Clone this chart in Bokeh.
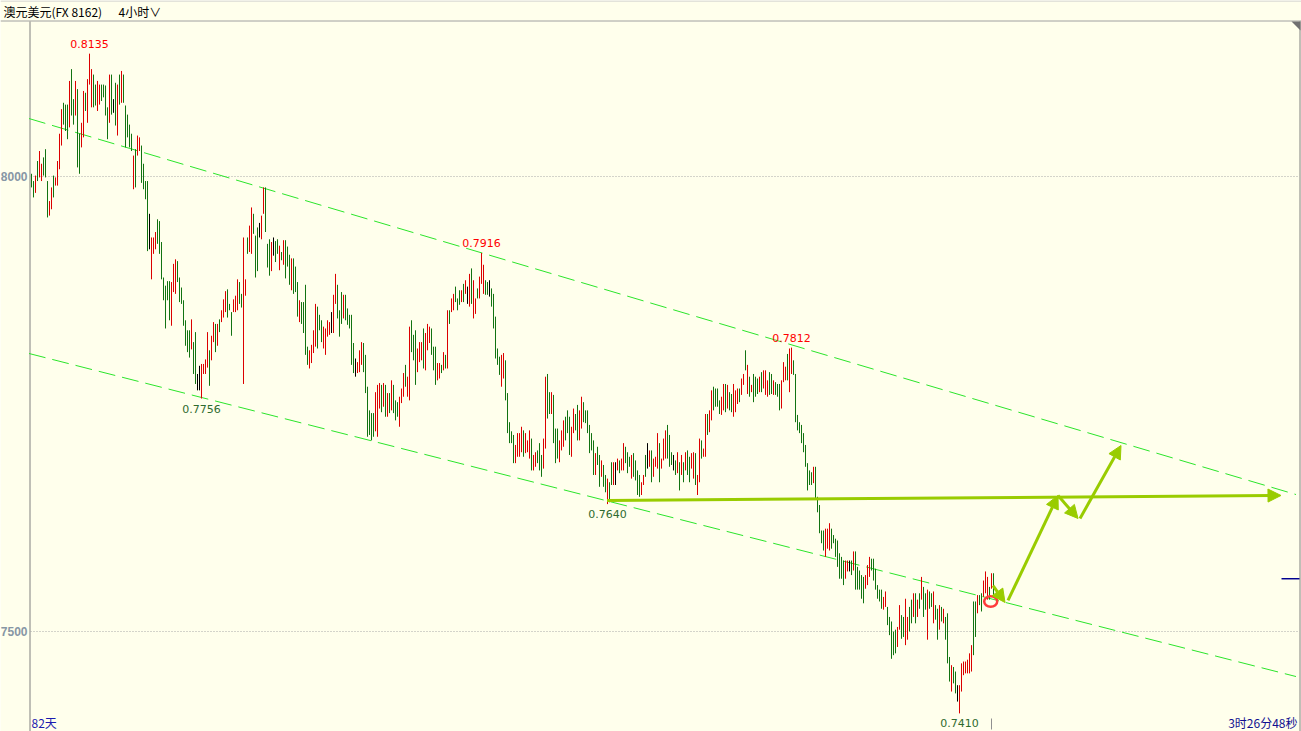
from bokeh.plotting import figure
from bokeh.models import Range1d, ColumnDataSource, Arrow, NormalHead
from bokeh.core.properties import value
from bokeh.embed import file_html
from bokeh.resources import INLINE

# ---------------- data ----------------
title_name = "澳元美元(FX 8162)"
title_period = "4小时∨"
span_text = "82天"
countdown_text = "3时26分48秒"

# 4-hour bars, prices in pips (price = pips / 10000)
high_pips = [
    8003, 7995, 8001, 8017, 8028, 8014, 8021, 8030, 7995, 7973,
    7988, 8001, 7999, 8017, 8047, 8074, 8081, 8079, 8079, 8105,
    8118, 8085, 8105, 8096, 8047, 8059, 8094, 8092, 8107, 8135,
    8118, 8112, 8101, 8105, 8101, 8101, 8101, 8100, 8076, 8112,
    8112, 8085, 8103, 8101, 8112, 8116, 8112, 8078, 8068, 8057,
    8047, 8023, 8030, 8045, 8043, 8034, 8014, 7995, 7995, 7959,
    7933, 7933, 7939, 7953, 7951, 7928, 7889, 7880, 7885, 7885,
    7884, 7904, 7909, 7907, 7889, 7878, 7864, 7842, 7831, 7831,
    7843, 7818, 7829, 7783, 7792, 7794, 7794, 7799, 7829, 7809,
    7825, 7840, 7838, 7838, 7843, 7853, 7865, 7874, 7876, 7860,
    7851, 7865, 7869, 7887, 7884, 7871, 7933, 7887, 7933, 7946,
    7966, 7959, 7935, 7944, 7949, 7957, 7988, 7988, 7926, 7931,
    7928, 7933, 7929, 7931,
    7924, 7917, 7930, 7930, 7923, 7914,
    7910, 7910, 7901, 7884, 7864, 7862, 7862, 7881, 7813, 7809,
    7815, 7831, 7860, 7857, 7848, 7842, 7835, 7833, 7842, 7840,
    7851, 7870, 7893, 7881, 7853, 7873, 7870, 7870, 7855, 7848,
    7848, 7817, 7800, 7796, 7809, 7818, 7817, 7804, 7769, 7743,
    7740, 7740, 7763, 7771, 7773, 7771, 7773, 7771, 7762, 7762,
    7776, 7771, 7754, 7752, 7758, 7767, 7784, 7793, 7780, 7835,
    7842, 7826, 7831, 7811, 7818, 7818, 7833, 7828, 7838, 7835,
    7833, 7813, 7813, 7795, 7795, 7793, 7807, 7804, 7853, 7853,
    7866, 7871, 7879, 7866, 7875, 7875, 7882, 7886, 7879, 7893,
    7899, 7886, 7866, 7877, 7890, 7916, 7903, 7886, 7884, 7886,
    7877, 7871, 7846, 7811, 7802, 7804, 7806, 7798, 7762, 7730,
    7720, 7716, 7705, 7718, 7718,
    7725, 7721, 7718, 7710, 7721,
    7712, 7694, 7697, 7699, 7707, 7694, 7712, 7780, 7783, 7763,
    7763, 7760, 7723, 7723, 7710, 7721, 7732, 7736, 7743, 7736,
    7725, 7745, 7739, 7749, 7743, 7758, 7752, 7743, 7743, 7727,
    7718, 7710, 7696, 7703, 7694, 7688, 7683, 7672, 7668, 7664,
    7686, 7686, 7686, 7690, 7688, 7690, 7707, 7703, 7697, 7692,
    7694, 7696, 7688, 7677, 7672, 7664, 7672, 7694, 7707, 7699,
    7699, 7690, 7692, 7718, 7707, 7690, 7712, 7721, 7727, 7716,
    7697, 7694, 7688, 7697, 7686, 7694, 7686, 7697, 7699, 7692,
    7696, 7697, 7696, 7672, 7712, 7710, 7701, 7739, 7739, 7743,
    7765, 7769, 7767, 7767, 7754, 7758, 7772, 7772, 7771, 7763,
    7761, 7772, 7765, 7767, 7767, 7778, 7783, 7809, 7793, 7780,
    7771, 7783, 7780, 7778, 7780,
    7785, 7787, 7787, 7776, 7785,
    7783, 7776, 7774, 7772, 7772, 7776, 7796, 7791, 7805, 7811,
    7812, 7798, 7783, 7738, 7730, 7727, 7718, 7705, 7685, 7677,
    7675, 7681, 7681, 7648, 7639, 7611, 7611, 7613, 7613, 7619,
    7613, 7606, 7602, 7600, 7586, 7582, 7578, 7578, 7578, 7578,
    7578, 7588, 7588, 7571, 7567, 7562, 7560, 7562, 7573, 7582,
    7580, 7580, 7569, 7551, 7546, 7546, 7538, 7544, 7527, 7516,
    7511, 7500, 7502, 7505, 7529, 7518, 7516, 7536, 7516, 7527,
    7535, 7542, 7542, 7535, 7542, 7560, 7549, 7542, 7546, 7544,
    7542, 7544, 7529, 7525, 7529, 7527, 7525, 7516, 7520, 7472,
    7463, 7461, 7456, 7441, 7441, 7465, 7467, 7467, 7469, 7476,
    7485, 7533, 7533, 7540, 7540, 7542, 7556, 7566, 7560, 7549,
    7564, 7564,
]

low_pips = [
    7988, 7977, 7982, 7995, 7999, 7995, 8001, 7999, 7955, 7957,
    7964, 7977, 7990, 7990, 8008, 8034, 8057, 8050, 8041, 8054,
    8067, 8057, 8067, 8010, 8003, 8032, 8043, 8072, 8059, 8101,
    8076, 8076, 8078, 8072, 8079, 8083, 8087, 8067, 8041, 8059,
    8068, 8070, 8056, 8045, 8079, 8081, 8081, 8032, 8043, 8032,
    8028, 7986, 7988, 8023, 8028, 7993, 7986, 7975, 7918, 7920,
    7887, 7915, 7920, 7926, 7915, 7887, 7864, 7833, 7864, 7842,
    7836, 7873, 7871, 7884, 7862, 7860, 7836, 7814, 7807, 7801,
    7810, 7783, 7772, 7765, 7765, 7756, 7783, 7783, 7790, 7770,
    7798, 7818, 7807, 7814, 7829, 7840, 7845, 7851, 7845, 7853,
    7825, 7851, 7851, 7853, 7860, 7856, 7772, 7869, 7915, 7917,
    7915, 7937, 7889, 7896, 7933, 7931, 7959, 7939, 7900, 7891,
    7896, 7913, 7906, 7915,
    7897, 7908, 7903, 7888, 7901, 7881,
    7875, 7871, 7873, 7846, 7840, 7838, 7828, 7804, 7793, 7789,
    7795, 7806, 7813, 7811, 7831, 7818, 7811, 7804, 7824, 7826,
    7828, 7828, 7860, 7844, 7824, 7838, 7844, 7842, 7837, 7833,
    7793, 7784, 7780, 7784, 7785, 7793, 7785, 7762, 7714, 7716,
    7710, 7714, 7720, 7714, 7745, 7741, 7747, 7736, 7736, 7740,
    7743, 7740, 7732, 7736, 7725, 7751, 7758, 7769, 7758, 7754,
    7807, 7798, 7771, 7785, 7796, 7798, 7789, 7787, 7809, 7817,
    7804, 7787, 7771, 7776, 7778, 7784, 7787, 7789, 7789, 7838,
    7851, 7853, 7862, 7853, 7859, 7862, 7862, 7871, 7860, 7857,
    7860, 7844, 7849, 7866, 7866, 7882, 7871, 7870, 7870, 7868,
    7857, 7833, 7800, 7793, 7782, 7769, 7778, 7754, 7718, 7707,
    7707, 7685, 7685, 7692, 7692,
    7697, 7692, 7696, 7697, 7690,
    7677, 7677, 7681, 7685, 7677, 7670, 7679, 7701, 7734, 7739,
    7739, 7707, 7685, 7690, 7686, 7699, 7703, 7710, 7718, 7694,
    7692, 7718, 7721, 7710, 7710, 7723, 7730, 7729, 7718, 7696,
    7699, 7672, 7672, 7683, 7659, 7670, 7659, 7653, 7640, 7642,
    7661, 7661, 7661, 7677, 7674, 7677, 7677, 7685, 7674, 7681,
    7668, 7670, 7666, 7650, 7648, 7650, 7661, 7670, 7679, 7681,
    7664, 7670, 7681, 7679, 7664, 7679, 7688, 7690, 7690, 7681,
    7683, 7677, 7672, 7674, 7655, 7672, 7664, 7677, 7672, 7664,
    7679, 7668, 7661, 7650, 7664, 7690, 7692, 7692, 7716, 7719,
    7732, 7743, 7747, 7747, 7739, 7738, 7743, 7741, 7745, 7743,
    7741, 7736, 7741, 7750, 7752, 7760, 7771, 7787, 7761, 7758,
    7763, 7752, 7758, 7761, 7763,
    7763, 7767, 7760, 7758, 7760,
    7761, 7760, 7760, 7758, 7743, 7745, 7774, 7776, 7776, 7763,
    7783, 7782, 7730, 7721, 7718, 7707, 7697, 7681, 7655, 7661,
    7661, 7663, 7646, 7631, 7608, 7597, 7589, 7582, 7591, 7589,
    7591, 7597, 7582, 7571, 7558, 7558, 7551, 7558, 7566, 7566,
    7562, 7567, 7546, 7546, 7546, 7536, 7531, 7547, 7551, 7560,
    7567, 7556, 7546, 7536, 7533, 7525, 7524, 7527, 7507, 7496,
    7470, 7474, 7476, 7483, 7502, 7492, 7494, 7485, 7491, 7500,
    7509, 7516, 7509, 7516, 7525, 7535, 7516, 7524, 7491, 7525,
    7527, 7509, 7513, 7491, 7502, 7511, 7509, 7491, 7465, 7445,
    7434, 7443, 7432, 7423, 7410, 7434, 7452, 7454, 7454, 7454,
    7456, 7474, 7494, 7520, 7529, 7522, 7538, 7542, 7535, 7535,
    7547, 7538,
]

# r = up (red), g = down (green), k = unchanged (black)
bar_dir = (
    "ggrgrrgggr" "rgrrrrgggr" "ggrggrrgrr" "rggrrggggr" "gkgrgrgggg"
    "grgrrggggk" "rrrggggggg" "rrrggggggg" "rggkkrrrrg" "rrgrgrrrgg"
    "grrrggrrgr" "rgggkrrggg" "rkgg"
    "rgrggg"
    "rgggrggggr" "rrrgggrrrr" "krrgggrggg" "ggkrrrgggg" "ggrrrgrgrg"
    "rgggrrrgrr" "gggrrrgrrr" "gggrrgrgrg" "rrgggrgrkr" "grrgrrrggk"
    "gggggrrggg"
    "ggrrr"
    "rgrrr"
    "grrgggrrgg" "rgggrrrggg" "rrggrrgggg" "ggrggrggrg" "grkrgrrggg"
    "rggggrrgkr" "grrrgrrrgg" "gkgrgrgrgg" "rrgrrgrrgr" "rggggrrgrg"
    "grrrgrrgrg"
    "rgggr"
    "grrrg"
    "grgggrrrgr" "rggggggggg" "grgggggrrr" "gggggggrrk" "grgggggrrr"
    "ggggggrrgg" "gggrrggrrg" "grgrgrggrg" "grggrgrggg" "rggkrrrrrr"
    "rggrggrrrg"
    "rg"
)

price_ticks = [0.80, 0.75]
last_price = 0.7558

# marked extremes (bar index)
marked_highs = [29, 225, 380]
marked_lows = [85, 288, 464]

# hand-drawn channel (bar index, price)
upper_channel_x = [-1.25, 632.25]
upper_channel_y = [0.80637, 0.76505]
lower_channel_x = [-1.25, 632.25]
lower_channel_y = [0.78055, 0.74505]

# projection arrows (bar index, price): start -> end
arrows_x0 = [287.75, 480.75, 488.25, 513.25, 524.25]
arrows_y0 = [0.76440, 0.75505, 0.75341, 0.76495, 0.76242]
arrows_x1 = [624.75, 486.75, 513.25, 523.25, 544.75]
arrows_y1 = [0.76495, 0.75319, 0.76495, 0.76242, 0.77044]

circle_x, circle_y = 479.6, 0.75330

# ---------------- layout / styling ----------------
W, H = 1301, 731
OX, OY = 0, 0  # page position of canvas


def ix(px):
    return (px - 31.0) / 2.0


def pr(py):
    return 0.8 - (py - 176.0) / 9100.0


BG = "#FFFFEC"
RED = "#DC0000"
GREEN = "#127312"
CH_GREEN = "#2BE52B"
ARROW = "#99CC00"

n = len(high_pips)
assert len(low_pips) == n and len(bar_dir) == n, (len(high_pips), len(low_pips), len(bar_dir))

cmap = {"r": RED, "g": GREEN, "k": "#000000"}
src = ColumnDataSource(dict(
    i=list(range(n)),
    hi=[v / 10000 for v in high_pips],
    lo=[v / 10000 for v in low_pips],
    c=[cmap[d] for d in bar_dir],
))

p = figure(width=W, height=H,
           x_range=Range1d(ix(OX), ix(OX + W)),
           y_range=Range1d(pr(OY + H), pr(OY)),
           x_axis_type=None, y_axis_type=None,
           toolbar_location=None, output_backend="svg",
           min_border=0, background_fill_color=BG, border_fill_color=BG,
           outline_line_color=None)

# header
p.segment(x0=[ix(0)], y0=[pr(0.5)], x1=[ix(W)], y1=[pr(0.5)], line_color="#C8C8C8", line_width=1)
p.segment(x0=[ix(0)], y0=[pr(20.5)], x1=[ix(W)], y1=[pr(20.5)], line_color="#A0A0A0", line_width=1)
p.text(x=[ix(3)], y=[pr(11)], text=[title_name], text_font=value("Noto Sans CJK SC"),
       text_font_size="12px", text_color="#000000", text_align="left", text_baseline="middle")
p.text(x=[ix(118)], y=[pr(11)], text=[title_period], text_font=value("Noto Sans CJK SC"),
       text_font_size="12px", text_color="#000000", text_align="left", text_baseline="middle")

# frame lines
p.segment(x0=[ix(29.5)], y0=[pr(21)], x1=[ix(29.5)], y1=[pr(H)], line_color="#808080", line_width=1)
p.segment(x0=[ix(1299.5)], y0=[pr(21)], x1=[ix(1299.5)], y1=[pr(H)], line_color="#808080", line_width=1)
p.patch(x=[ix(1291), ix(1300), ix(1300)], y=[pr(21), pr(21), pr(30)], fill_color="#707070", line_color=None)

# grid + price labels
for t in price_ticks:
    p.segment(x0=[ix(30)], y0=[t], x1=[ix(1299)], y1=[t], line_color="#A8A8A8",
              line_width=1, line_dash="1 2")
p.text(x=[ix(27)] * len(price_ticks), y=price_ticks,
       text=[f"{t:.4f}"[2:] for t in price_ticks],
       text_font=value("Liberation Sans"), text_font_size="12px", text_font_style="bold",
       text_color="#8796A5", text_align="right", text_baseline="middle")

# channels
p.line(upper_channel_x, upper_channel_y, line_color=CH_GREEN, line_width=1, line_dash="17 7")
p.line(lower_channel_x, lower_channel_y, line_color=CH_GREEN, line_width=1, line_dash="17 7")

# bars
p.segment(x0="i", y0="lo", x1="i", y1="hi", line_color="c", line_width=1, source=src)

# extreme labels
p.text(x=marked_highs, y=[high_pips[k] / 10000 for k in marked_highs],
       text=[f"{high_pips[k] / 10000:.4f}" for k in marked_highs],
       text_font=value("DejaVu Sans"), text_font_size="11px", text_color="#FF0000",
       text_align="center", text_baseline="middle", y_offset=-10)
p.text(x=marked_lows, y=[low_pips[k] / 10000 for k in marked_lows],
       text=[f"{low_pips[k] / 10000:.4f}" for k in marked_lows],
       text_font=value("DejaVu Sans"), text_font_size="11px", text_color="#2E6B2E",
       text_align="center", text_baseline="middle", y_offset=10)

# projection arrows
for k in range(len(arrows_x0)):
    p.add_layout(Arrow(end=NormalHead(size=13, fill_color=ARROW, line_color=ARROW),
                       x_start=arrows_x0[k], y_start=arrows_y0[k],
                       x_end=arrows_x1[k], y_end=arrows_y1[k],
                       line_color=ARROW, line_width=3))

# red circle at the breakout
p.ellipse(x=[circle_x], y=[circle_y], width=6.5, height=10.5 / 9100, fill_color=None,
          line_color="#FF3B3B", line_width=2.5)

# current price marker
p.segment(x0=[ix(1281)], y0=[last_price], x1=[ix(1299)], y1=[last_price], line_color="#000090", line_width=1.5)

# bottom info
p.text(x=[ix(31)], y=[pr(722)], text=[span_text], text_font=value("Noto Sans CJK SC"),
       text_font_size="12px", text_color="#1A1AB0", text_align="left", text_baseline="middle")
p.text(x=[ix(1297)], y=[pr(722)], text=[countdown_text], text_font=value("Noto Sans CJK SC"),
       text_font_size="12px", text_color="#101090", text_align="right", text_baseline="middle")
p.segment(x0=[n - 2.0], y0=[pr(718)], x1=[n - 2.0], y1=[pr(729)], line_color="#909090", line_width=1)

open("out.html", "w").write(file_html(p, INLINE))
